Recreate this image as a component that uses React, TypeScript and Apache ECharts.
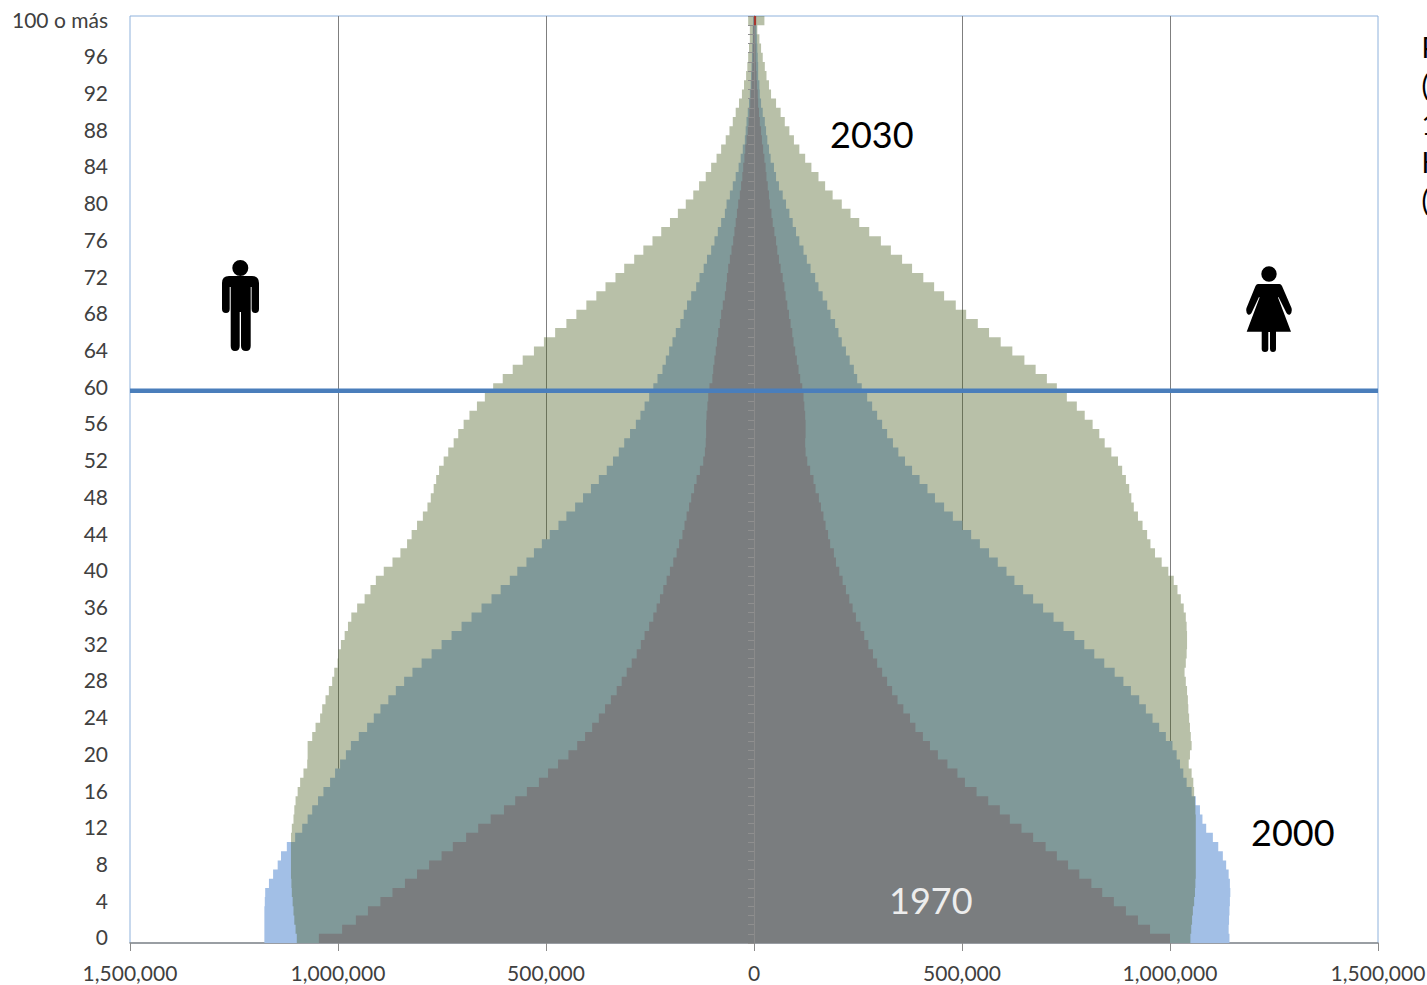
import React, { useEffect, useRef } from "react";
import * as echarts from "echarts";

// Values in thousands of people, by single year of age 0..100
const ages: string[] = Array.from({ length: 101 }, (_, i) => (i === 100 ? "100 o más" : String(i)));
const xTicks = { min: -1500000, max: 1500000, step: 500000 };

const male2000 = [
  1177,1177,1177,1177,1176,1175,1166,1156,1145,1137,1123,
  1103,1086,1073,1062,1048,1035,1019,1007,995,981,
  969,950,930,914,898,879,861,841,821,799,
  775,751,727,703,679,655,631,609,587,569,
  547,529,510,491,470,451,430,411,392,373,
  354,339,325,312,298,284,273,263,252,242,
  232,220,212,204,196,188,177,169,161,151,
  139,131,121,113,103,95,87,79,70,66,
  58,51,44,37,32,27,22,20,18,15,
  12,10,8,7,6,5,4,3,3,2,
];
const male2030 = [
  1099,1102,1105,1107,1109,1111,1112,1113,1113,1113,1113,
  1113,1111,1107,1105,1102,1097,1091,1083,1074,1073,
  1073,1062,1054,1043,1038,1030,1022,1014,1009,1001,
  999,993,984,976,968,954,936,922,909,890,
  869,850,834,823,810,796,785,777,770,764,
  757,746,735,722,711,698,684,666,647,627,
  604,580,556,529,505,478,451,427,403,379,
  357,333,312,288,266,244,223,202,183,164,
  146,132,116,103,90,79,68,59,51,44,
  36,29,24,19,16,14,12,10,10,14,
];
const male1970 = [
  1046,990,957,928,898,869,839,810,781,751,724,
  692,663,633,601,574,546,517,495,471,446,
  425,406,389,373,358,344,330,318,306,294,
  282,272,263,252,242,234,226,218,210,202,
  194,186,180,172,167,162,156,151,144,138,
  130,122,118,116,115,115,114,112,110,107,
  100,98,95,92,89,86,82,79,75,70,
  67,65,62,58,54,50,47,44,41,38,
  34,31,28,26,23,21,18,15,13,11,
  9,8,6,5,4,3,3,2,2,1,
];
const female2000 = [
  1143,1141,1142,1143,1144,1145,1144,1141,1135,1127,1116,
  1103,1087,1078,1072,1062,1052,1040,1032,1024,1016,
  1006,990,974,958,942,926,906,888,867,842,
  818,794,770,744,720,695,671,647,626,607,
  586,565,543,522,501,478,457,435,417,398,
  380,363,347,334,320,308,296,284,272,259,
  248,240,230,221,211,203,195,184,176,165,
  155,147,136,127,119,109,101,93,85,77,
  69,60,53,48,40,36,32,29,26,21,
  17,14,13,10,10,9,8,7,6,5,
];
const female2030 = [
  1049,1051,1053,1055,1058,1060,1061,1062,1062,1062,1062,
  1062,1062,1062,1061,1060,1058,1056,1052,1045,1048,
  1052,1050,1048,1046,1044,1043,1041,1038,1035,1038,
  1040,1041,1041,1040,1038,1033,1026,1018,1009,996,
  980,964,953,945,934,923,913,907,902,894,
  885,875,859,843,830,814,795,776,752,728,
  704,677,650,621,593,565,538,510,485,457,
  433,407,380,356,329,305,277,253,232,211,
  189,171,155,138,123,109,96,85,74,64,
  53,41,36,30,26,21,17,13,8,25,
];
const female1970 = [
  1000,952,923,894,865,837,811,782,755,728,701,
  671,643,615,591,563,535,507,489,465,442,
  423,406,388,375,359,345,332,320,308,296,
  286,275,265,256,245,237,229,221,213,205,
  197,192,183,178,172,167,161,156,148,143,
  135,128,124,123,124,124,123,121,119,116,
  111,107,103,99,95,92,88,84,80,76,
  73,69,64,60,56,53,49,45,42,38,
  36,33,30,28,25,22,19,17,14,12,
  10,9,7,6,5,4,4,3,3,5,
];
const yearLabels = ["2030", "2000", "1970"];
const clippedNote = ["P", "(", "1", "H", "("];

const manPath =
  "M10.3 10a8 8 0 1 0 16 0a8 8 0 1 0 -16 0ZM7 18H30Q37 18 37 25V51Q37 55 33.3 55Q29.6 55 29.6 51V29H28.7V88Q28.7 93 24 93Q19 93 19 88V54H17.7V88Q17.7 93 13 93Q8.7 93 8.7 88V29H7.7V51Q7.7 55 4 55Q0 55 0 51V25Q0 18 7 18Z";
const womanPath =
  "M15.3 8a7.7 7.7 0 1 0 15.4 0a7.7 7.7 0 1 0 -15.4 0ZM12 18H33.5Q35 18 36 20L45.5 42Q46.5 46 44 48.5Q42 49.5 40.5 47L32.5 31L32 31.5L45 65.7H30V83Q30 86 27 86Q24 86 24 83V66H22.3V83Q22.3 86 19 86Q15.7 86 15.7 83V65.7H0.7L13.6 31.5L13 31L5.5 47Q4 49.5 2 48.5Q-0.5 46 0.5 42L9.5 20Q10.5 18 12 18Z";
echarts.graphic.registerShape("manIcon", echarts.graphic.extendPath(manPath, {}) as any);
echarts.graphic.registerShape("womanIcon", echarts.graphic.extendPath(womanPath, {}) as any);

const FONT = "Lato";
const BLUE = "#a2bfe6";
const OLIVE = "rgba(77,97,37,0.4)";
const GREY = "#7a7d7f";

const fmt = (v: number) => Math.abs(v).toString().replace(/\B(?=(\d{3})+$)/g, ",");

function barSeries(name: string, values: number[], sign: number, color: string, z: number) {
  return {
    name,
    type: "bar",
    large: true,
    largeThreshold: 1,
    xAxisIndex: 0,
    yAxisIndex: 0,
    barGap: "-100%",
    barCategoryGap: 0,
    z,
    silent: true,
    itemStyle: { color },
    data: values.map((v) => sign * v * 1000),
  };
}

export default function App() {
  const ref = useRef<HTMLDivElement>(null);
  useEffect(() => {
    document.body.style.margin = "0";
    document.body.style.overflow = "hidden";
    const chart = echarts.init(ref.current!, undefined, { renderer: "svg" });
    const topRed = ages.map((_, i) => (i === 100 ? female1970[100] * 1000 : null));
    chart.setOption({
      animation: false,
      backgroundColor: "#ffffff",
      grid: {
        left: 130,
        top: 16,
        right: 49,
        bottom: 42,
        outerBoundsMode: "none",
        show: true,
        borderColor: "#8fb2dc",
        borderWidth: 1,
        backgroundColor: "transparent",
      },
      xAxis: {
        type: "value",
        z: 1,
        min: xTicks.min,
        max: xTicks.max,
        interval: xTicks.step,
        axisLine: { show: true, onZero: false, lineStyle: { color: "#8a8a8a", width: 1.5 } },
        axisTick: { show: true, length: 8, lineStyle: { color: "#8a8a8a" } },
        splitLine: { show: true, showMinLine: false, showMaxLine: false, lineStyle: { color: "#7f7f7f", width: 1 } },
        axisLabel: { margin: 19, color: "#404040", fontFamily: FONT, fontSize: 21, formatter: fmt, hideOverlap: false, showMinLabel: true, showMaxLabel: true },
      },
      yAxis: [
        {
          type: "category",
          data: ages,
          position: "left",
          axisLine: { show: false, onZero: false },
          axisTick: { show: false },
          axisLabel: { interval: 3, margin: 22, color: "#404040", fontFamily: FONT, fontSize: 21, hideOverlap: false, verticalAlign: "bottom", lineHeight: 3 },
        },
        {
          type: "category",
          data: ages,
          position: "left",
          z: 6,
          axisLine: { show: true, onZero: true, lineStyle: { color: "#8a8a8a", width: 1 } },
          axisTick: { show: true, interval: 0, length: 6, lineStyle: { color: "#8f8f8f", width: 1 } },
          axisLabel: { show: false },
        },
      ],
      graphic: [
        { type: "line", z: 20, shape: { x1: 130, y1: 390.7, x2: 1378, y2: 390.7 }, style: { stroke: "#4a7ebb", lineWidth: 4.5 } },
        { type: "text", z: 20, x: 830, y: 116, style: { text: yearLabels[0], font: `36px ${FONT}`, fill: "#000" } },
        { type: "text", z: 20, x: 1251, y: 814, style: { text: yearLabels[1], font: `36px ${FONT}`, fill: "#000" } },
        { type: "text", z: 20, x: 889, y: 882, style: { text: yearLabels[2], font: `36px ${FONT}`, fill: "#ededed" } },
        { type: "manIcon", z: 20, x: 222, y: 258, style: { fill: "#000" } },
        { type: "womanIcon", z: 20, x: 1246, y: 266, style: { fill: "#000" } },
        ...clippedNote.map((t, i) => ({
          type: "text",
          z: 20,
          x: 1421.5,
          y: 33 + i * 38.3,
          style: { text: t, font: `28px ${FONT}`, fill: "#000" },
        })),
      ],
      series: [
        barSeries("2000 hombres", male2000, -1, BLUE, 2),
        barSeries("2000 mujeres", female2000, 1, BLUE, 2),
        barSeries("2030 hombres", male2030, -1, OLIVE, 3),
        barSeries("2030 mujeres", female2030, 1, OLIVE, 3),
        barSeries("1970 hombres", male1970, -1, GREY, 4),
        barSeries("1970 mujeres", female1970, 1, GREY, 4),
        {
          name: "1970 100 o más",
          type: "bar",
          barGap: "-100%",
          barCategoryGap: 0,
          z: 7,
          silent: true,
          itemStyle: { color: "#a8352e" },
          data: topRed,
        },
      ],
    });
    return () => chart.dispose();
  }, []);
  return <div ref={ref} style={{ width: 1427, height: 985 }} />;
}
